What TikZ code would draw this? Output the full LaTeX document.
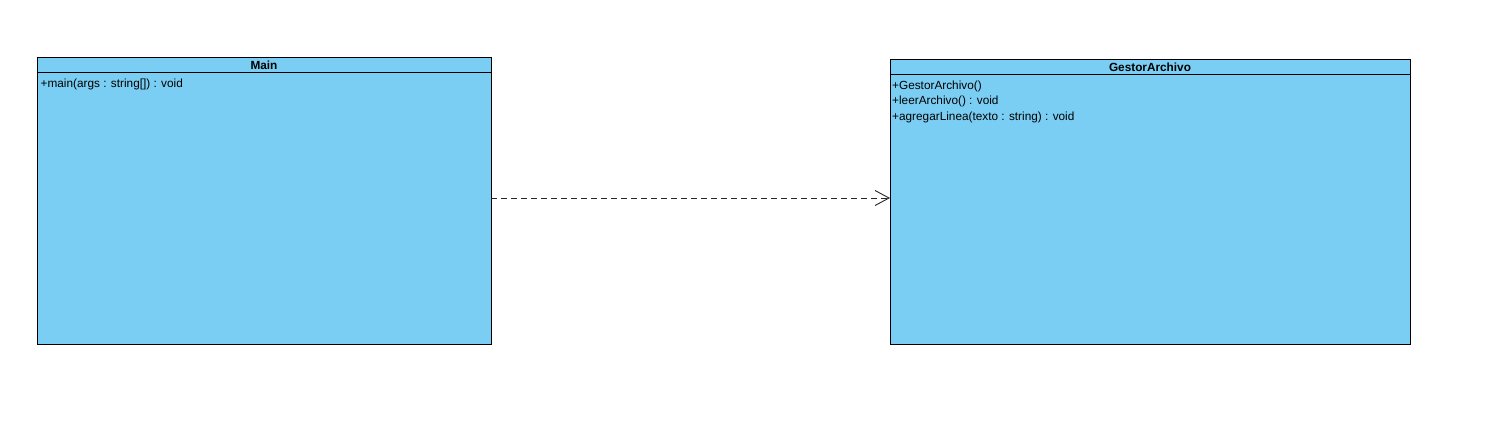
\documentclass[tikz,border=0pt]{standalone}
\usepackage{fontspec}
\setmainfont{Liberation Sans}
\usetikzlibrary{arrows.meta}
\definecolor{umlblue}{HTML}{7ACEF4}
\tikzset{
  classbox/.style={draw=black, fill=umlblue, line width=0.9pt, rectangle, inner sep=0pt, outer sep=0pt, anchor=north west},
  sepline/.style={draw=black, line width=0.9pt},
  title/.style={font=\fontsize{11.8}{13}\selectfont\bfseries, inner sep=0pt},
  member/.style={font=\fontsize{11.8}{13}\selectfont, inner sep=0pt, anchor=north west},
  dep/.style={draw=black!85, line width=0.8pt, dash pattern=on 6pt off 4pt,
    -{Straight Barb[length=14pt, width=15pt, line width=0.9pt]}}
}
\begin{document}
\begin{tikzpicture}[x=1pt, y=-1pt]
\useasboundingbox (0,0) rectangle (1494,432);
% Main
\node[classbox, minimum width=454pt, minimum height=287pt] (main) at (37,57) {};
\draw[sepline] (37,72) -- (491,72);
\node[title] (maintitle) at (264,65) {Main};
\node[member] (m1) at (40.5,78.5) {+main(args : string[]) : void};
% GestorArchivo
\node[classbox, minimum width=520pt, minimum height=285pt] (gest) at (890,59) {};
\draw[sepline] (890,74) -- (1410,74);
\node[title] (gtitle) at (1150,67) {GestorArchivo};
\node[member] (g1) at (892,80.5) {+GestorArchivo()};
\node[member] (g2) at (892,96) {+leerArchivo() : void};
\node[member] (g3) at (892,111.5) {+agregarLinea(texto : string) : void};
% dependency
\draw[dep] (main.east |- 0,198) -- (gest.west |- 0,198);
\end{tikzpicture}
\end{document}
